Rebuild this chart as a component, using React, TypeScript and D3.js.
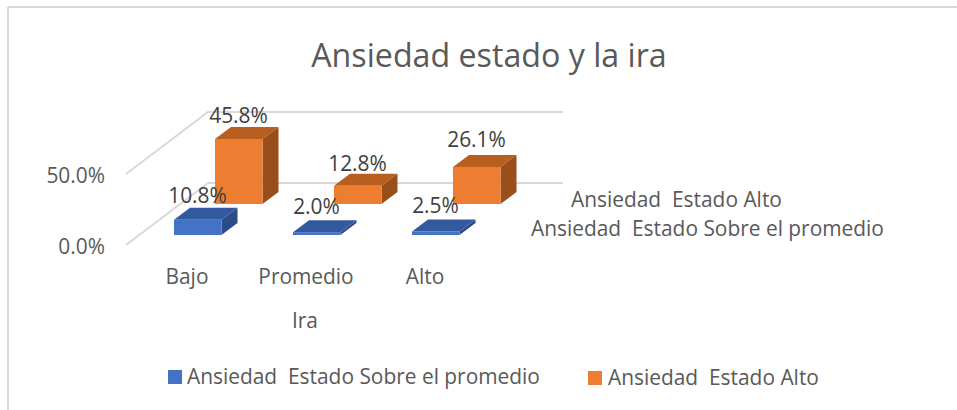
import React from "react";
import * as d3 from "d3";

const categories = ["Bajo", "Promedio", "Alto"];
const seriesNames = ["Ansiedad  Estado Sobre el promedio", "Ansiedad  Estado Alto"];
const sobrePromedio = [10.8, 2.0, 2.5];
const alto = [45.8, 12.8, 26.1];
const yTicks = [0, 50];
const titleText = "Ansiedad estado y la ira";
const axisTitle = "Ira";

const W = 957, H = 410;
const FONT = "'Open Sans', sans-serif";
const TXT = "#595959";
const LABEL = "#404040";
const GRID = "#d9d9d9";
const FS = 20.9;

export default function App() {
  const x = d3.scalePoint<string>().domain(categories).range([174, 412]);
  const h = d3.scaleLinear().domain([0, 50]).range([0, 71]);
  const barW = 47.5, dx = 16, dy = 12;
  const series = [
    { vals: sobrePromedio, off: 0, base: 235, front: "#4472c4", top: "#335a9e", side: "#2b4c86", nudge: [0, -1, -1] },
    { vals: alto, off: 41, base: 204, front: "#ed7d31", top: "#b85f20", side: "#9a4f1b", nudge: [1, 2, -3] },
  ];
  const poly = (p: [number, number][]) => p.map((q) => q.join(",")).join(" ");
  const txt = { fontFamily: FONT, fill: TXT, style: { whiteSpace: "pre" as const } };
  return (
    <svg width={W} height={H} style={{ position: "absolute", left: 0, top: 0, background: "#fff" }}>
      <line x1={8} y1={7} x2={W} y2={7} stroke={GRID} strokeWidth={2} />
      <line x1={8} y1={7} x2={8} y2={H} stroke={GRID} strokeWidth={2} />
      <text x={489} y={67} textAnchor="middle" fontSize={32.2} {...txt}>{titleText}</text>
      {yTicks.map((t) => {
        const y0 = 245 - h(t);
        return (
          <g key={t}>
            <polyline points={poly([[126, y0], [208, y0 - 62], [563, y0 - 62]])} fill="none" stroke={GRID} strokeWidth={2} />
            <text x={105} y={y0 + 9} textAnchor="end" fontSize={FS} {...txt}>{t.toFixed(1)}%</text>
          </g>
        );
      })}
      {series.map((s) =>
        categories.map((c, i) => {
          const x0 = x(c)! + s.off;
          const x1 = x0 + barW;
          const yt = s.base - h(s.vals[i]);
          return (
            <g key={c + s.off}>
              <polygon points={poly([[x0, yt], [x0 + dx, yt - dy], [x1 + dx, yt - dy], [x1, yt]])} fill={s.top} />
              <polygon points={poly([[x1, yt], [x1 + dx, yt - dy], [x1 + dx, s.base - dy], [x1, s.base]])} fill={s.side} />
              <rect x={x0} y={yt} width={barW} height={s.base - yt} fill={s.front} />
            </g>
          );
        })
      )}
      {series.map((s) =>
        categories.map((c, i) => (
          <text key={c + s.off} x={x(c)! + s.off + 23.5} y={s.base - h(s.vals[i]) - 17 + s.nudge[i]} textAnchor="middle" fontSize={FS} {...txt} fill={LABEL}>
            {s.vals[i].toFixed(1)}%
          </text>
        ))
      )}
      {categories.map((c) => (
        <text key={c} x={x(c)! + 13} y={284} textAnchor="middle" fontSize={FS} {...txt}>{c}</text>
      ))}
      <text x={305} y={328} textAnchor="middle" fontSize={FS} {...txt}>{axisTitle}</text>
      <text x={571} y={207} fontSize={FS} {...txt}>{seriesNames[1]}</text>
      <text x={531} y={236} fontSize={FS} {...txt}>{seriesNames[0]}</text>
      <rect x={168} y={370} width={14} height={14} fill={series[0].front} />
      <text x={187} y={384} fontSize={FS} {...txt}>{seriesNames[0]}</text>
      <rect x={588} y={371} width={14} height={14} fill={series[1].front} />
      <text x={608} y={385} fontSize={FS} {...txt}>{seriesNames[1]}</text>
    </svg>
  );
}
